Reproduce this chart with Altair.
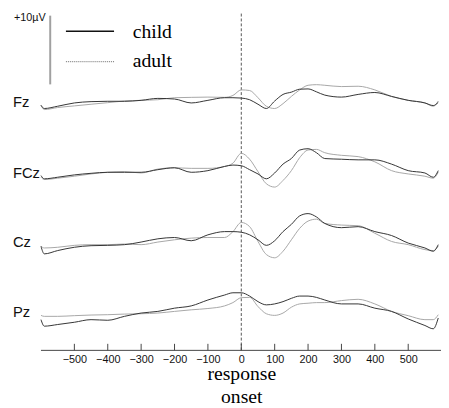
import altair as alt
import pandas as pd

# ---- data -------------------------------------------------------------------
times = [-600, -590, -550, -500, -450, -400, -350, -300, -250, -200, -150, -100,
         -50, -25, 0, 25, 50, 75, 100, 125, 150, 175, 200, 225, 250, 300, 350,
         400, 450, 500, 550, 575, 590]

channels = ["Fz", "FCz", "Cz", "Pz"]
channel_offsets = [36.14, 25.86, 15.71, 5.57]  # vertical stacking (µV units)

fz_child = [-0.48, -0.95, -0.62, -0.14, 0.05, 0.1, 0.1, 0.24, 0.52, 0.43, -0.14, 0.24,
            0.62, 0.62, 0.57, 0.33, -0.33, -0.95, 0.14, 1.1, 1.43, 1.86, 1.9, 1.48, 1.0,
            0.71, 1.1, 1.38, 0.81, 0.24, -0.14, -0.52, -0.05]
fz_adult = [-0.48, -1.1, -0.81, -0.57, -0.33, -0.1, 0.14, 0.24, 0.33, 0.62, 0.67, 0.71,
            0.67, 0.95, 1.76, 1.67, 0.62, -0.62, -0.95, -0.24, 0.81, 1.76, 2.43, 2.52, 2.43,
            2.24, 2.29, 1.76, 0.81, 0.24, -0.14, -0.62, 0.14]
fcz_child = [-0.43, -0.9, -0.67, -0.33, -0.1, 0.05, 0.05, 0.05, 0.43, 0.71, 0.05, 0.29,
             0.9, 1.1, 1.0, 0.43, -0.19, -0.9, -0.05, 1.24, 2.05, 3.29, 3.48, 2.9, 2.05,
             1.95, 1.86, 1.86, 1.24, 0.29, -0.05, -0.67, 0.29]
fcz_adult = [-0.67, -1.0, -0.81, -0.52, -0.19, 0.05, 0.14, -0.05, 0.52, 0.71, 0.62, 0.62,
             0.9, 1.38, 2.81, 1.95, 0.14, -1.62, -2.1, -1.14, 0.29, 2.19, 3.29, 3.38, 2.9,
             2.52, 2.33, 1.57, 0.29, -0.19, -0.52, -0.81, 0.05]
cz_child = [-0.57, -1.67, -1.19, -0.71, -0.48, -0.43, -0.33, 0.05, 0.52, 0.71, 0.24, 1.1,
            1.57, 1.57, 1.48, 1.1, 0.38, -0.43, 0.24, 1.57, 2.62, 3.86, 4.19, 3.71, 2.76,
            2.14, 2.29, 1.57, 1.0, -0.1, -0.81, -1.29, -0.33]
cz_adult = [-0.57, -0.81, -0.71, -0.43, -0.33, -0.33, -0.24, -0.33, 0.05, 0.38, 0.62, 0.71,
            0.71, 1.57, 2.9, 2.29, 0.14, -1.76, -2.24, -1.29, 0.38, 2.05, 3.1, 3.38, 2.76,
            2.52, 2.43, 1.33, 0.14, -0.33, -1.05, -1.19, -0.57]
pz_child = [-1.1, -2.05, -1.81, -1.48, -1.1, -1.19, -0.62, -0.14, 0.1, 0.57, 0.9, 1.76,
            2.48, 2.81, 2.81, 2.33, 1.52, 1.05, 1.19, 1.52, 2.0, 2.33, 2.33, 2.14, 1.76,
            1.19, 1.19, 0.57, 0.1, -1.0, -1.95, -2.43, -0.86]
pz_adult = [-0.48, -0.62, -0.62, -0.52, -0.43, -0.38, -0.29, -0.24, -0.14, 0.1, 0.33, 0.52,
            0.9, 1.38, 2.1, 2.14, 0.81, -0.24, -0.48, -0.14, 0.71, 1.19, 1.29, 1.38, 1.38,
            1.67, 1.86, 1.19, 0.1, -0.52, -1.1, -1.1, -0.38]

tick_values = [-500, -400, -300, -200, -100, 0, 100, 200, 300, 400, 500]
axis_range = [-600, 600]
legend_labels = ["child", "adult"]
scale_bar_uv = [38.7, 48.7]
scale_label = "+10µV"
x_title = ["response", "onset"]

# ---- tables -----------------------------------------------------------------
series = {
    ("Fz", "child"): fz_child, ("Fz", "adult"): fz_adult,
    ("FCz", "child"): fcz_child, ("FCz", "adult"): fcz_adult,
    ("Cz", "child"): cz_child, ("Cz", "adult"): cz_adult,
    ("Pz", "child"): pz_child, ("Pz", "adult"): pz_adult,
}
offs = dict(zip(channels, channel_offsets))
rows = []
for (ch, grp), vals in series.items():
    for t, v in zip(times, vals):
        rows.append({"time": t, "channel": ch, "group": grp, "uv": v, "y": offs[ch] + v})
df = pd.DataFrame(rows)

lab_df = pd.DataFrame({"channel": channels, "y": channel_offsets})
ticks_df = pd.DataFrame({"time": tick_values, "y0": 0.0, "y1": 0.95})
axis_df = pd.DataFrame({"time": [axis_range[0]], "x1": [axis_range[1] + 10], "y": [0.0]})
zero_df = pd.DataFrame({"time": [0], "y0": [0.0], "y1": [49.0]})
bar_df = pd.DataFrame({"y0": [scale_bar_uv[0]], "y1": [scale_bar_uv[1]]})
one = pd.DataFrame({"a": [0]})

W, H = 441, 345
xscale = alt.Scale(domain=[-698.8, 598.2], nice=False, zero=False)
yscale = alt.Scale(domain=[0, 345 / 7], nice=False, zero=False)

xaxis = alt.Axis(values=tick_values, domain=False, ticks=False, tickSize=0, grid=False,
                 labelFont="Liberation Sans", labelFontSize=11, labelColor="#111",
                 labelPadding=3, labelFlush=False,
                 title=x_title, titleFont="Liberation Serif", titleFontSize=20,
                 titleFontWeight="normal", titleColor="#000", titleX=237.6, titleY=14,
                 titleBaseline="top", titleAlign="center", titleAnchor="middle",
                 titleLineHeight=23)

X = alt.X("time:Q", scale=xscale, axis=xaxis)

base = alt.Chart(df)

child = base.transform_filter(alt.datum.group == "child").mark_line(
    color="#333333", strokeWidth=1.0, interpolate="monotone").encode(
    x=X, y=alt.Y("y:Q", scale=yscale, axis=None), detail="channel:N")

adult = base.transform_filter(alt.datum.group == "adult").mark_line(
    color="#a6a6a6", strokeWidth=1.0, interpolate="monotone").encode(
    x=X, y=alt.Y("y:Q", scale=yscale, axis=None), detail="channel:N")

labels = alt.Chart(lab_df).mark_text(
    align="left", baseline="middle", font="Liberation Sans", fontSize=15,
    color="#111").encode(
    x=alt.value(5), y=alt.Y("y:Q", scale=yscale, axis=None), text="channel:N")

tick_marks = alt.Chart(ticks_df).mark_rule(color="#444", strokeWidth=1).encode(
    x=X, y=alt.Y("y0:Q", scale=yscale, axis=None), y2="y1:Q")

axis_line = alt.Chart(axis_df).mark_rule(color="#444", strokeWidth=1).encode(
    x=X, x2="x1:Q", y=alt.Y("y:Q", scale=yscale, axis=None))

zero_line = alt.Chart(zero_df).mark_rule(color="#555", strokeWidth=1,
                                          strokeDash=[3, 2]).encode(
    x=X, y=alt.Y("y0:Q", scale=yscale, axis=None), y2="y1:Q")

scale_bar = alt.Chart(bar_df).mark_rule(color="#a0a0a0", strokeWidth=2).encode(
    x=alt.value(43), y=alt.Y("y0:Q", scale=yscale, axis=None), y2="y1:Q")

scale_text = alt.Chart(one).mark_text(
    align="left", baseline="middle", font="Liberation Sans", fontSize=11,
    color="#111", text=scale_label).encode(x=alt.value(6), y=alt.value(7))

leg_child_line = alt.Chart(one).mark_rule(color="#111", strokeWidth=1.6).encode(
    x=alt.value(59), x2=alt.value(108), y=alt.value(20))
leg_adult_line = alt.Chart(one).mark_rule(color="#666", strokeWidth=1,
                                           strokeDash=[1, 1]).encode(
    x=alt.value(59), x2=alt.value(108), y=alt.value(51))
leg_child_text = alt.Chart(one).mark_text(
    align="left", baseline="alphabetic", font="Liberation Serif", fontSize=20,
    color="#000", text=legend_labels[0]).encode(x=alt.value(127), y=alt.value(27))
leg_adult_text = alt.Chart(one).mark_text(
    align="left", baseline="alphabetic", font="Liberation Serif", fontSize=20,
    color="#000", text=legend_labels[1]).encode(x=alt.value(127), y=alt.value(56))

chart = alt.layer(
    zero_line, adult, child,
    labels, tick_marks, axis_line, scale_bar, scale_text,
    leg_child_line, leg_adult_line, leg_child_text, leg_adult_text,
).properties(
    width=W, height=H, autosize=alt.AutoSizeParams(type="none"),
    padding={"left": 0, "top": 0, "right": 0, "bottom": 55},
).configure(background="white").configure_view(stroke=None)

chart.save("out.html", embed_options={"renderer": "svg", "actions": False})
